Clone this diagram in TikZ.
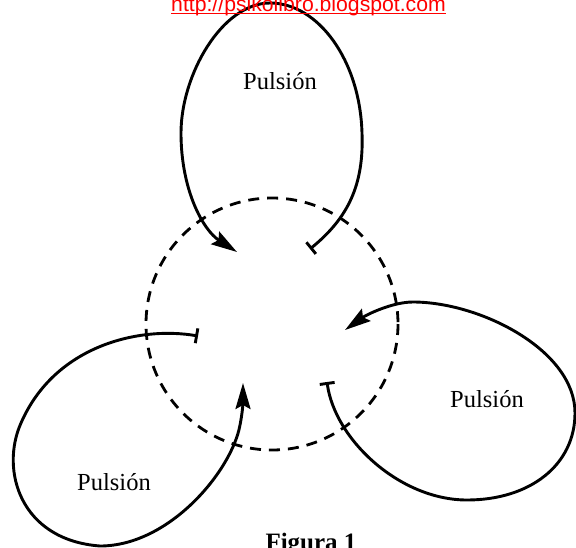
\documentclass[tikz,border=0pt]{standalone}
\usepackage{fontspec}
\setmainfont{Liberation Serif}
\newfontfamily\urlfont{Liberation Sans}
\usetikzlibrary{arrows.meta}
\begin{document}
\begin{tikzpicture}[x=1pt,y=-1pt,
  loopline/.style={line width=2.9pt, line cap=round},
  barhead/.style={{Bar[width=15pt,line width=2.9pt]}-{Stealth[length=26pt,width=15pt,inset=4pt]}},
  dashring/.style={line width=2.8pt, dash pattern=on 11pt off 8pt},
  lab/.style={font=\fontsize{24.5}{28}\selectfont, anchor=base, inner sep=0pt}]
\useasboundingbox (0,0) rectangle (576,547);
\fill[white] (0,0) rectangle (576,547);
% dashed ring
\coordinate (c) at (272,324);
\draw[dashring] (c) circle[radius=126];
% ends of loops
\coordinate (b1) at (310,249);
\coordinate (t1) at (237,252);
\coordinate (b2) at (327,382);
\coordinate (t2) at (345,330);
\coordinate (b3) at (198,336);
\coordinate (t3) at (243,383);
% top loop
\draw[loopline, barhead] (b1) .. controls (348,218) and (364,185) .. (362,133)
  .. controls (360,60) and (318,3) .. (270,3)
  .. controls (222,3) and (181,75) .. (181,133)
  .. controls (181,190) and (203,230) .. (t1);
% right loop
\draw[loopline, barhead] (b2) .. controls (335,440) and (400,500) .. (467,500)
  .. controls (530,500) and (575,465) .. (575,413)
  .. controls (575,350) and (480,302) .. (413,302)
  .. controls (392,302) and (366,315) .. (t2);
% left loop
\draw[loopline, barhead] (b3) .. controls (140,326) and (55,345) .. (21,423)
  .. controls (0,470) and (20,540) .. (100,546)
  .. controls (170,546) and (232,470) .. (240,425)
  .. controls (243,410) and (243,400) .. (t3);
% labels
\node[lab] (p1) at (280,89) {Pulsión};
\node[lab] (p2) at (487,407) {Pulsión};
\node[lab] (p3) at (114,490) {Pulsión};
\node[font=\fontsize{25}{28}\selectfont\bfseries, anchor=base, inner sep=0pt] (fig) at (311,550) {Figura 1};
% url
\node[font=\urlfont\fontsize{21.2}{24}\selectfont, text=red, anchor=base, inner sep=0pt] (url) at (308.5,11) {http://psikolibro.blogspot.com};
\draw[red, line width=1.6pt] ([yshift=-2.6pt]url.base west) -- ([yshift=-2.6pt]url.base east);
\end{tikzpicture}
\end{document}
